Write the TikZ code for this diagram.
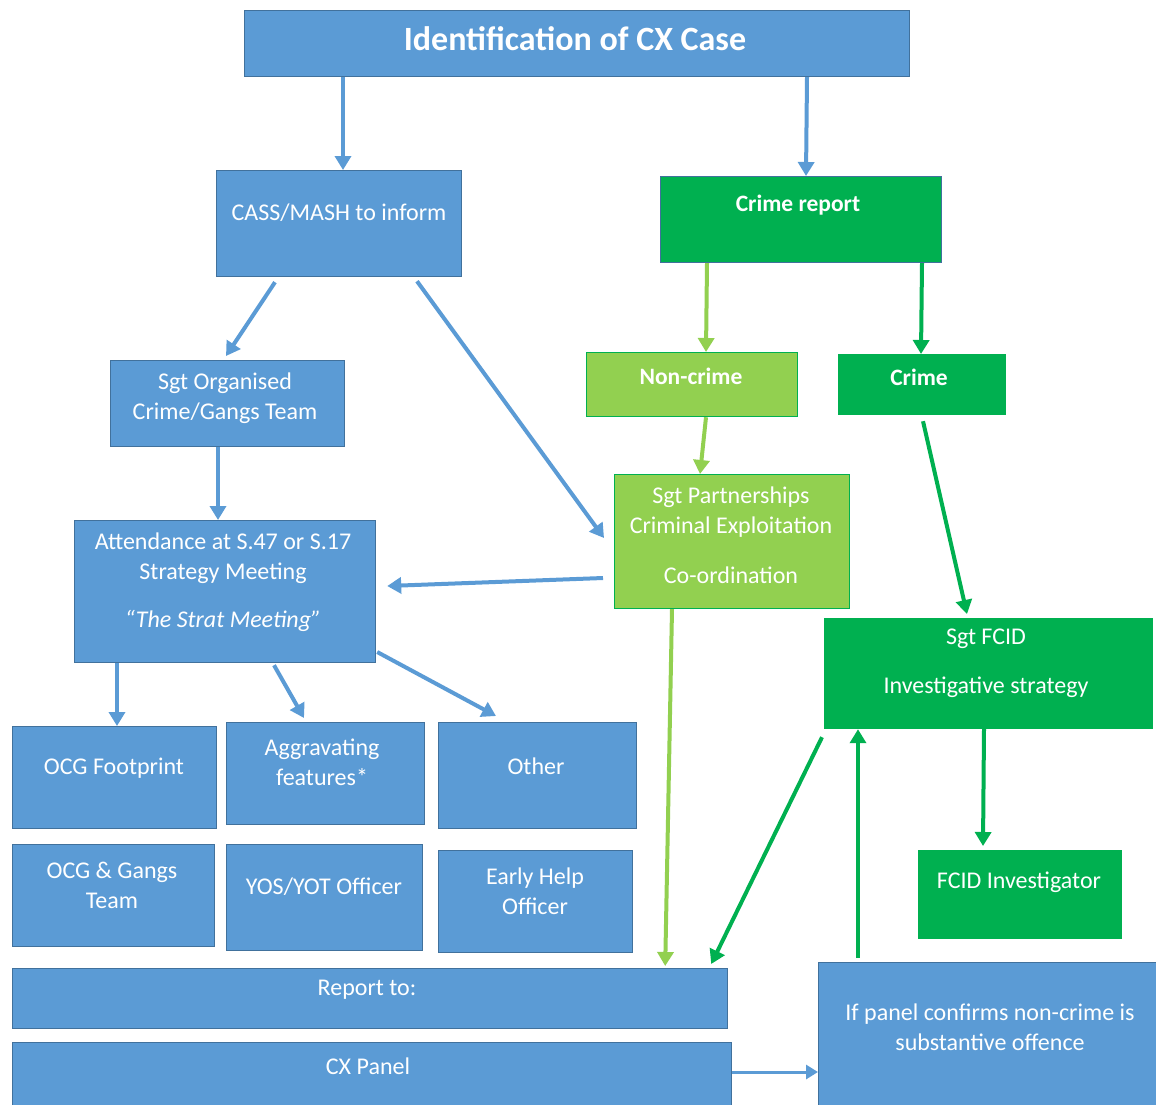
\documentclass[tikz,border=0pt]{standalone}
\usepackage{fontspec}
\setmainfont{Carlito}
\usetikzlibrary{arrows.meta,calc}
\definecolor{bfill}{HTML}{5B9BD5}
\definecolor{bline}{HTML}{41719C}
\definecolor{dgreen}{HTML}{00B050}
\definecolor{lgreen}{HTML}{92D050}
\tikzset{
  bluebox/.style={draw=bline,fill=bfill,line width=1.2pt,inner sep=0pt,anchor=north west},
  dgbox/.style={draw=dgreen,fill=dgreen,line width=1.2pt,inner sep=0pt,anchor=north west},
  dgbbox/.style={draw=bline,fill=dgreen,line width=1.2pt,inner sep=0pt,anchor=north west},
  lgbox/.style={draw=dgreen,fill=lgreen,line width=1.2pt,inner sep=0pt,anchor=north west},
  txt/.style={text=white,font=\fontsize{24}{30}\selectfont,align=center,inner sep=0pt},
  btxt/.style={txt,font=\fontsize{23.5}{30}\selectfont\bfseries},
  barrow/.style={draw=bfill,line width=4pt,-{Triangle[width=16pt,length=14pt]}},
  dgarrow/.style={draw=dgreen,line width=4pt,-{Triangle[width=16pt,length=14pt]}},
  lgarrow/.style={draw=lgreen,line width=4pt,-{Triangle[width=16pt,length=14pt]}},
}
\newcommand{\mybox}[6]{\node[#6,minimum width={#4-#2},minimum height={#5-#3}] (#1) at (#2,#3) {};}
\begin{document}
\begin{tikzpicture}[x=1pt,y=-1pt]
\useasboundingbox (0,0) rectangle (1156,1104);
% boxes
\mybox{title}{244}{10}{909}{76}{bluebox}
\mybox{cass}{216}{170}{461}{276}{bluebox}
\mybox{crimerep}{660}{176}{941}{262}{dgbbox}
\mybox{noncrime}{586}{352}{797}{416}{lgbox}
\mybox{crime}{838}{354}{1005}{414}{dgbox}
\mybox{sgtorg}{110}{360}{344}{446}{bluebox}
\mybox{sgtpart}{614}{474}{849}{608}{lgbox}
\mybox{attend}{74}{520}{375}{662}{bluebox}
\mybox{fcid}{824}{618}{1152}{728}{dgbox}
\mybox{ocgfoot}{12}{726}{216}{828}{bluebox}
\mybox{aggr}{226}{722}{424}{824}{bluebox}
\mybox{other}{438}{722}{636}{828}{bluebox}
\mybox{ocggang}{12}{844}{214}{946}{bluebox}
\mybox{yos}{226}{844}{422}{950}{bluebox}
\mybox{early}{438}{850}{632}{952}{bluebox}
\mybox{fcidinv}{918}{850}{1121}{938}{dgbox}
\mybox{report}{12}{968}{727}{1028}{bluebox}
\mybox{panel}{12}{1042}{731}{1112}{bluebox}
\mybox{ifpanel}{818}{962}{1160}{1112}{bluebox}
% texts
\node[txt,font=\fontsize{34}{40}\selectfont\bfseries] (t1) at (575,39) {Identification of CX Case};
\node[txt] (t2) at (339,213) {CASS/MASH to inform};
\node[btxt] (t3) at (798,205) {Crime report};
\node[btxt] (t4) at (691,376) {Non-crime};
\node[btxt] (t5) at (919,377) {Crime};
\node[txt] (t6) at (225,398) {Sgt Organised\\Crime/Gangs Team};
\node[txt] (t7) at (731,512) {Sgt Partnerships\\Criminal Exploitation};
\node[txt] (t7b) at (731,575) {Co-ordination};
\node[txt] (t8) at (223,558) {Attendance at S.47 or S.17\\Strategy Meeting};
\node[txt,font=\fontsize{24}{30}\selectfont\itshape] (t8b) at (223,621) {“The Strat Meeting”};
\node[txt] (t9) at (986,639) {Sgt FCID};
\node[txt] (t9b) at (986,687) {Investigative strategy};
\node[txt] (t10) at (114,768) {OCG Footprint};
\node[txt] (t11) at (322,762) {Aggravating\\features*};
\node[txt] (t12) at (536,766) {Other};
\node[txt] (t13) at (112,885) {OCG \& Gangs\\Team};
\node[txt] (t14) at (324,887) {YOS/YOT Officer};
\node[txt] (t15) at (535,891) {Early Help\\Officer};
\node[txt] (t16) at (1019,882) {FCID Investigator};
\node[txt] (t17) at (367,990) {Report to:};
\node[txt] (t18) at (368,1066) {CX Panel};
\node[txt] (t19) at (990,1027) {If panel confirms non-crime is\\substantive offence};
% arrows
\draw[barrow] (title.south -| 343,0) -- (cass.north -| 343,0);
\draw[barrow] (title.south -| 807,0) -- (crimerep.north -| 806,0);
\draw[barrow] ($(cass.south west)+(59,5)$) -- ($(sgtorg.north west)+(116,-4)$);
\draw[barrow] ($(cass.south west)+(201,4)$) -- ($(sgtpart.north west)+(-10,64)$);
\draw[barrow] (sgtorg.south -| 218,0) -- (attend.north -| 218,0);
\draw[barrow] ($(sgtpart.north west)+(-11,104)$) -- ($(attend.north east)+(11,66)$);
\draw[barrow] (attend.south -| 117,0) -- (ocgfoot.north -| 117,0);
\draw[barrow] ($(attend.south west)+(200,2)$) -- ($(aggr.north west)+(78,-4)$);
\draw[barrow] ($(attend.north east)+(1,132)$) -- ($(other.north west)+(58,-6)$);
\draw[barrow,line width=3pt,-{Triangle[width=14pt,length=12pt]}] ($(panel.north east)+(0,30)$) -- (ifpanel.west |- 0,1072);
\draw[lgarrow] (crimerep.south -| 707,0) -- (noncrime.north -| 706,0);
\draw[dgarrow] (crimerep.south -| 922,0) -- (crime.north -| 921,0);
\draw[lgarrow] (noncrime.south -| 706,0) -- (sgtpart.north -| 700,0);
\draw[dgarrow] ($(crime.south west)+(85,6)$) -- ($(fcid.north west)+(143,-4)$);
\draw[lgarrow] (sgtpart.south -| 672,0) -- ($(report.north east)+(-63,-2)$);
\draw[dgarrow] ($(fcid.south west)+(-2,8)$) -- ($(report.north east)+(-17,-4)$);
\draw[dgarrow] ($(ifpanel.north west)+(40,-4)$) -- (fcid.south -| 858,0);
\draw[dgarrow] (fcid.south -| 984,0) -- ($(fcidinv.north west)+(65,-4)$);
\end{tikzpicture}
\end{document}
